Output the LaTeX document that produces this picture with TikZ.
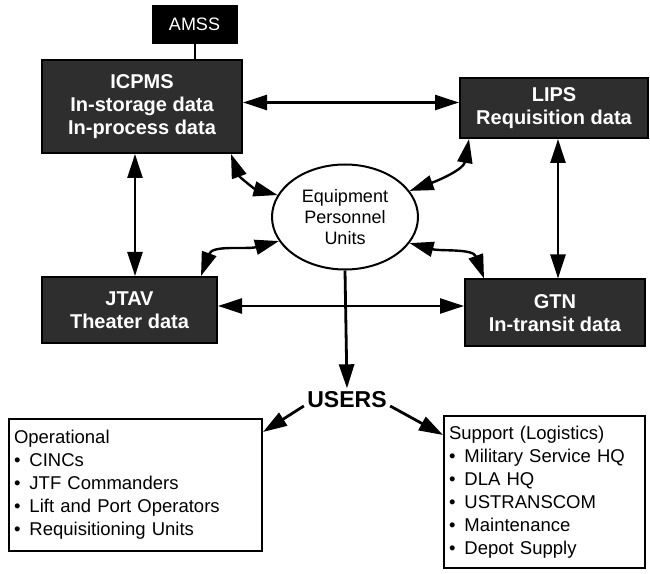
\documentclass[tikz,border=0pt]{standalone}
\usepackage{fontspec}
\setmainfont{Liberation Sans}
\usetikzlibrary{arrows.meta,shapes.geometric}
\tikzset{
    DK/.style ={rectangle, draw=black, line width=2pt, fill=black!82, text=white, font=\bfseries\fontsize{20}{23}\selectfont, align=center, inner sep=1pt},
    AM/.style ={rectangle, draw=black, fill=black, text=white, font=\fontsize{18}{20}\selectfont, minimum width=85pt, minimum height=38pt},
    EQ/.style ={ellipse, draw, line width=2pt, minimum width=146pt, minimum height=105pt, align=center, font=\fontsize{18}{21}\selectfont, inner sep=0pt},
    WB/.style ={rectangle, draw, line width=2pt, anchor=north west, align=left, font=\fontsize{18.5}{23}\selectfont, inner sep=5pt},
    BA/.style ={line width=2.4pt, <->},
    SA/.style ={line width=2.8pt, ->}}
\begin{document}
\begin{tikzpicture}[x=1pt,y=1pt,>={Triangle[length=24pt,width=15pt]}]
        \useasboundingbox (0,0) rectangle (650,573);
        % data systems
        \node[AM] (amss) at (194.5,549) {AMSS};
        \node[DK, minimum width=200pt, minimum height=93pt] (icp) at (142,466.5) {ICPMS\\In-storage data\\In-process data};
        \node[DK, minimum width=188pt, minimum height=60pt] (lips) at (554,465) {LIPS\\Requisition data};
        \node[DK, minimum width=175pt, minimum height=66pt] (jtav) at (129.5,263) {JTAV\\Theater data};
        \node[DK, minimum width=180pt, minimum height=67pt] (gtn) at (555,260) {GTN\\In-transit data};
        \node[EQ] (eqp) at (345,356) {Equipment\\Personnel\\Units};
        \node[font=\bfseries\fontsize{23}{25}\selectfont] (usr) at (347,173) {USERS};
        % user groups
        \node[WB, text width=243pt, minimum height=132pt] (op) at (8,155) {Operational\\
            \textbullet\hspace{9pt}CINCs\\
            \textbullet\hspace{9pt}JTF Commanders\\
            \textbullet\hspace{9pt}Lift and Port Operators\\
            \textbullet\hspace{9pt}Requisitioning Units};
        \node[WB, text width=191pt, minimum height=152pt] (sup) at (443,158) {Support (Logistics)\\
            \textbullet\hspace{9pt}Military Service HQ\\
            \textbullet\hspace{9pt}DLA HQ\\
            \textbullet\hspace{9pt}USTRANSCOM\\
            \textbullet\hspace{9pt}Maintenance\\
            \textbullet\hspace{9pt}Depot Supply};
        % links
        \draw[line width=2pt] (amss.south) -- (amss.south |- icp.north);
        \draw[BA] ([yshift=4pt]icp.east) -- ([yshift=4pt]icp.east -| lips.west);
        \draw[BA] ([xshift=-7pt]icp.south) -- ([xshift=-7pt]icp.south |- jtav.north);
        \draw[BA] ([xshift=4pt]lips.south) -- ([xshift=4pt]lips.south |- gtn.north);
        \draw[BA] ([yshift=4pt]jtav.east) -- ([yshift=4pt]jtav.east -| gtn.west);
        \draw[BA] ([xshift=-12pt]icp.south east) to[out=-70,in=165] (eqp.162);
        \draw[BA] ([xshift=10pt]lips.south west) to[out=-100,in=20] (eqp.22);
        \draw[BA] ([xshift=-17pt]jtav.north east) to[out=70,in=195] (eqp.200);
        \draw[BA] ([xshift=20pt]gtn.north west) to[out=110,in=-15] (eqp.-22);
        \draw[SA] (eqp.south) -- (usr.north);
        \draw[SA] ([yshift=-6pt]usr.west) -- ([yshift=-14pt]op.north east);
        \draw[SA] ([yshift=-6pt]usr.east) -- ([yshift=-20pt]sup.north west);
    \end{tikzpicture}
\end{document}
